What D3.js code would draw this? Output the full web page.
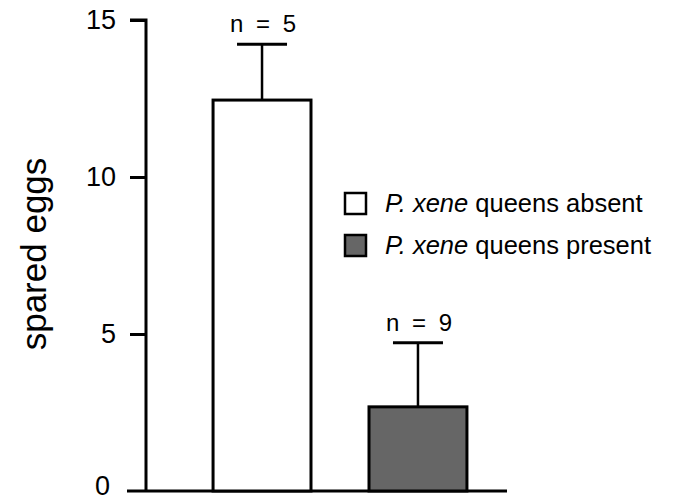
<!DOCTYPE html>
<html>
<head>
<meta charset="utf-8">
<script src="https://cdn.jsdelivr.net/npm/d3@7"></script>
<style>
  body { margin: 0; background: #fff; }
  svg { display: block; font-family: "Liberation Sans", Arial, sans-serif; }
</style>
</head>
<body>
<svg id="chart" width="677" height="503"></svg>
<script>
var groups = ["absent", "present"];
var legendLabels = ["queens absent", "queens present"];
var means = [12.45, 2.68];
var upperErr = [14.23, 4.72];
var sampleSizes = [5, 9];
var yTicks = [0, 5, 10, 15];
var fills = ["#ffffff", "#666666"];

var svg = d3.select("#chart");

var y = d3.scaleLinear().domain([0, 15]).range([491, 20]);
var x = d3.scaleBand().domain(groups).range([146, 534])
  .paddingInner(0.372).paddingOuter(0.43);

// baseline
svg.append("line")
  .attr("x1", 127).attr("x2", 507)
  .attr("y1", y(0)).attr("y2", y(0))
  .attr("stroke", "#000").attr("stroke-width", 3);

// y axis
var axis = d3.axisLeft(y).tickValues(yTicks).tickSize(16).tickPadding(14);
var ax = svg.append("g").attr("transform", "translate(146,0)").call(axis);
ax.select(".domain").attr("d", "M-16," + y(15) + "H0V" + y(0))
  .attr("stroke", "#000").attr("stroke-width", 3).attr("fill", "none");
ax.selectAll(".tick line").attr("stroke", "#000").attr("stroke-width", 3);
ax.selectAll(".tick").filter(function(d) { return d === 0; }).select("line").remove();
ax.selectAll(".tick text").attr("font-size", 27).attr("fill", "#000")
  .attr("font-family", "Liberation Sans, Arial, sans-serif");
// zero label sits just under the baseline, kept inside the page
ax.selectAll(".tick").filter(function(d) { return d === 0; }).select("text")
  .attr("x", -36).attr("dy", "0.12em");

svg.append("text")
  .attr("transform", "translate(46,254) rotate(-90)")
  .attr("text-anchor", "middle")
  .attr("font-size", 35)
  .text("spared eggs");

// error bars
var eb = svg.selectAll("g.err").data(groups).enter().append("g").attr("class", "err");
eb.append("line")
  .attr("x1", function(d) { return x(d) + x.bandwidth() / 2; })
  .attr("x2", function(d) { return x(d) + x.bandwidth() / 2; })
  .attr("y1", function(d, i) { return y(means[i]); })
  .attr("y2", function(d, i) { return y(upperErr[i]); })
  .attr("stroke", "#000").attr("stroke-width", 2.5);
eb.append("line")
  .attr("x1", function(d) { return x(d) + x.bandwidth() / 2 - 25; })
  .attr("x2", function(d) { return x(d) + x.bandwidth() / 2 + 25; })
  .attr("y1", function(d, i) { return y(upperErr[i]); })
  .attr("y2", function(d, i) { return y(upperErr[i]); })
  .attr("stroke", "#000").attr("stroke-width", 3);
eb.append("text")
  .attr("x", function(d) { return x(d) + x.bandwidth() / 2 + 1; })
  .attr("y", function(d, i) { return y(upperErr[i]) - 12; })
  .attr("text-anchor", "middle")
  .attr("font-size", 24)
  .attr("word-spacing", 6)
  .text(function(d, i) { return "n = " + sampleSizes[i]; });

// bars
svg.selectAll("rect.bar").data(groups).enter().append("rect")
  .attr("class", "bar")
  .attr("x", function(d) { return x(d); })
  .attr("width", x.bandwidth())
  .attr("y", function(d, i) { return y(means[i]); })
  .attr("height", function(d, i) { return y(0) - y(means[i]); })
  .attr("fill", function(d, i) { return fills[i]; })
  .attr("stroke", "#000").attr("stroke-width", 3);

// legend
var lg = svg.selectAll("g.legend").data(groups).enter().append("g")
  .attr("class", "legend")
  .attr("transform", function(d, i) { return "translate(345," + (193 + i * 42) + ")"; });
lg.append("rect")
  .attr("width", 21).attr("height", 21)
  .attr("fill", function(d, i) { return fills[i]; })
  .attr("stroke", "#000").attr("stroke-width", 2.5);
var lt = lg.append("text")
  .attr("x", 40).attr("y", 19)
  .attr("font-size", 25.5);
lt.append("tspan").attr("font-style", "italic").text("P. xene");
lt.append("tspan").text(function(d, i) { return " " + legendLabels[i]; });
</script>
</body>
</html>
